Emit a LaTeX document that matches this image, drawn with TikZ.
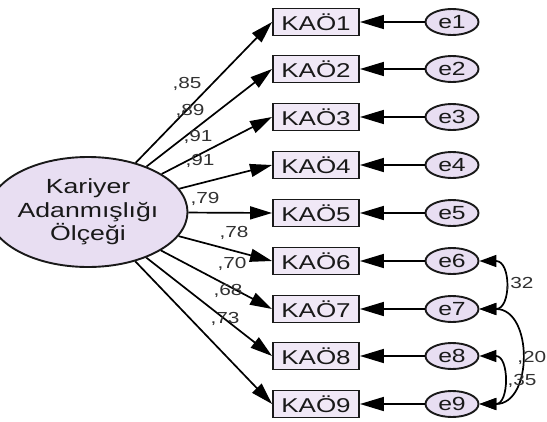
\documentclass[tikz,border=0pt]{standalone}
\usepackage{fontspec}
\setmainfont[FakeStretch=1.3]{Liberation Sans}
\usetikzlibrary{arrows.meta,shapes.geometric}
\definecolor{boxfill}{RGB}{240,232,246}
\definecolor{ellfill}{RGB}{232,222,242}
\definecolor{txt}{RGB}{25,25,25}
\definecolor{lab}{RGB}{50,50,50}
\begin{document}
\begin{tikzpicture}[x=1pt,y=-1pt,
 obs/.style={draw=black!90,line width=1.9pt,fill=boxfill,minimum width=86pt,minimum height=27pt,inner sep=0pt,font=\fontsize{20}{22}\selectfont,text=txt},
 err/.style={ellipse,draw=black!90,line width=1.9pt,fill=ellfill,minimum width=53pt,minimum height=26pt,inner sep=0pt,font=\fontsize{19}{21}\selectfont,text=txt},
 lat/.style={ellipse,draw=black!90,line width=1.9pt,fill=ellfill,minimum width=151pt,minimum height=110pt,inner sep=0pt,align=center,font=\fontsize{20.5}{23.5}\selectfont,text=txt},
 load/.style={line width=1.7pt,-{Triangle[length=22pt,width=13pt]}},
 eload/.style={line width=1.7pt,-{Triangle[length=24pt,width=14pt]}},
 cov/.style={line width=1.7pt,{Triangle[length=17pt,width=12pt]}-{Triangle[length=17pt,width=12pt]}},
 lbl/.style={font=\fontsize{16}{18}\selectfont,text=lab,inner sep=0pt}
]
\useasboundingbox (0,0) rectangle (547,421);
\fill[white] (0,0) rectangle (547,421);

\node[lat] (K) at (88,212) {Kariyer\\Adanmışlığı\\Ölçeği};

\foreach \i/\y in {1/22,2/69,3/117,4/165,5/213,6/261,7/309,8/356,9/404}{
  \node[obs] (b\i) at (316,\y) {KAÖ\i};
  \node[err] (e\i) at (452,\y) {e\i};
  \draw[load] (K) -- (b\i.west);
  \draw[eload] (e\i) -- (b\i);
}

\node[lbl] (l1) at (187,84) {,85};
\node[lbl] (l2) at (190,111) {,89};
\node[lbl] (l3) at (198,137) {,91};
\node[lbl] (l4) at (200,161) {,91};
\node[lbl] (l5) at (205,199) {,79};
\node[lbl] (l6) at (234,233) {,78};
\node[lbl] (l7) at (232,264) {,70};
\node[lbl] (l8) at (228,291) {,68};
\node[lbl] (l9) at (225,319) {,73};

\draw[cov] (e6.east) to[out=0,in=0,looseness=1.7] (e7.east);
\draw[cov] (e7.east) to[out=0,in=0,looseness=1.45] (e9.east);
\draw[cov] (e8.east) to[out=0,in=0,looseness=1.6] (e9.east);

\node[lbl] (c1) at (519,284) {,32};
\node[lbl,anchor=east] (c2) at (546.5,358) {,20};
\node[lbl] (c3) at (522,381) {,35};
\end{tikzpicture}
\end{document}
